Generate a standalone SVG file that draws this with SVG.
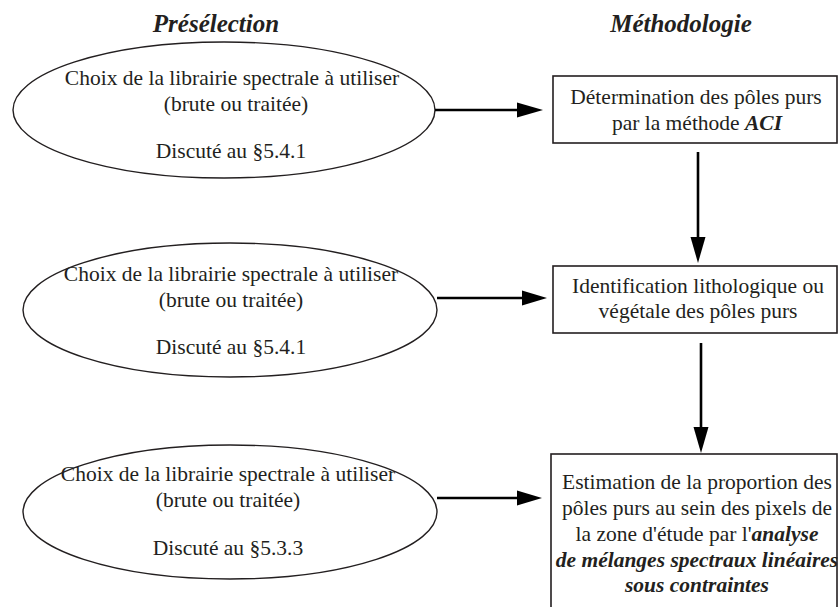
<svg xmlns="http://www.w3.org/2000/svg" width="840" height="607" viewBox="0 0 840 607">
<style>
  .t { font-family: "Liberation Serif", "Times New Roman", serif; font-size: 21.5px; fill: #231f20; text-anchor: middle; }
  .h { font-family: "Liberation Serif", "Times New Roman", serif; font-size: 25px; font-weight: bold; font-style: italic; fill: #231f20; text-anchor: middle; }
  .bi { font-weight: bold; font-style: italic; }
  .ell { fill: none; stroke: #231f20; stroke-width: 1.4; }
  .box { fill: none; stroke: #231f20; stroke-width: 1.6; }
  .ln { stroke: #000; stroke-width: 2.6; fill: none; }
  .hd { fill: #000; }
</style>
<rect width="840" height="607" fill="#fff"/>
<g id="headers">
  <text class="h" x="216" y="32">Présélection</text>
  <text class="h" x="681" y="32">Méthodologie</text>
</g>
<g id="ellipse1">
  <ellipse class="ell" cx="224" cy="110" rx="211" ry="68"/>
  <text class="t" x="232" y="85">Choix de la librairie spectrale à utiliser</text>
  <text class="t" x="236" y="111">(brute ou traitée)</text>
  <text class="t" x="231" y="158">Discuté au §5.4.1</text>
</g>
<g id="ellipse2">
  <ellipse class="ell" cx="230" cy="310" rx="207" ry="67"/>
  <text class="t" x="231" y="281">Choix de la librairie spectrale à utiliser</text>
  <text class="t" x="231" y="307">(brute ou traitée)</text>
  <text class="t" x="231" y="354">Discuté au §5.4.1</text>
</g>
<g id="ellipse3">
  <ellipse class="ell" cx="230" cy="512" rx="207" ry="67"/>
  <text class="t" x="228" y="481">Choix de la librairie spectrale à utiliser</text>
  <text class="t" x="228" y="507">(brute ou traitée)</text>
  <text class="t" x="228" y="555">Discuté au §5.3.3</text>
</g>
<g id="box1">
  <rect class="box" x="553" y="76" width="284" height="67"/>
  <text class="t" x="696" y="104">Détermination des pôles purs</text>
  <text class="t" x="697" y="130">par la méthode <tspan class="bi">ACI</tspan></text>
</g>
<g id="box2">
  <rect class="box" x="553" y="266" width="284" height="67"/>
  <text class="t" x="698" y="293">Identification lithologique ou</text>
  <text class="t" x="698" y="318">végétale des pôles purs</text>
</g>
<g id="box3">
  <rect class="box" x="551" y="454" width="286" height="170"/>
  <text class="t" x="697" y="489">Estimation de la proportion des</text>
  <text class="t" x="697" y="515">pôles purs au sein des pixels de</text>
  <text class="t" x="697" y="541">la zone d'étude par l'<tspan class="bi">analyse</tspan></text>
  <text class="t bi" x="697" y="567">de mélanges spectraux linéaires</text>
  <text class="t bi" x="697" y="592">sous contraintes</text>
</g>
<g id="connectors">
  <line class="ln" x1="435" y1="110" x2="520" y2="110"/>
  <polygon class="hd" points="517,102.5 543,110 517,117.5"/>
  <line class="ln" x1="437" y1="298" x2="525" y2="298"/>
  <polygon class="hd" points="522,290.5 547,298 522,305.5"/>
  <line class="ln" x1="437" y1="498" x2="520" y2="498"/>
  <polygon class="hd" points="517,490.5 542,498 517,505.5"/>
  <line class="ln" x1="698" y1="152" x2="698" y2="240"/>
  <polygon class="hd" points="690.5,237 705.5,237 698,263"/>
  <line class="ln" x1="701" y1="343" x2="701" y2="430"/>
  <polygon class="hd" points="693.5,427 708.5,427 701,453"/>
</g>
</svg>
